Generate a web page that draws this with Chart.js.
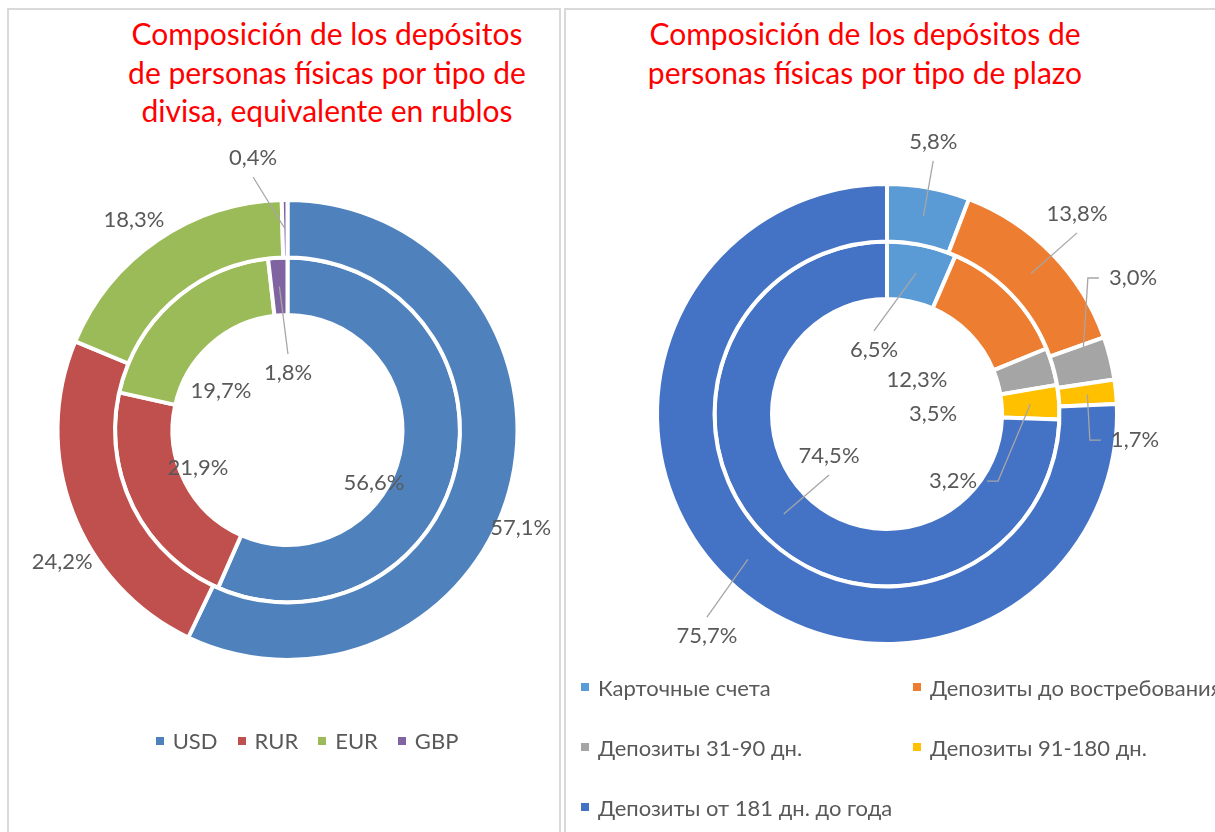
<!DOCTYPE html>
<html>
<head>
<meta charset="utf-8">
<script src="https://cdn.jsdelivr.net/npm/chart.js@4.4.0/dist/chart.umd.min.js"></script>
<style>
  body { margin: 0; width: 1215px; height: 832px; overflow: hidden; background: #fff; font-family: Lato, "Open Sans", sans-serif; }
  .panel { position: absolute; border: 2px solid #d9d9d9; box-sizing: border-box; }
  #panelLeft { left: 7px; top: 8px; width: 554px; height: 900px; }
  #panelRight { left: 564px; top: 8px; width: 700px; height: 900px; }
  .title { position: absolute; color: #ff0000; font-size: 30px; line-height: 38.5px; text-align: center; white-space: nowrap; }
  #titleLeft { left: 127px; width: 400px; top: 14px; }
  #titleRight { left: 565px; width: 600px; top: 14px; }
  canvas { position: absolute; }
  #currencyChart { left: 10px; top: 130px; }
  #termChart { left: 570px; top: 120px; }
  .legend { position: absolute; color: #595959; font-size: 22px; }
  .legend .item { display: flex; align-items: center; white-space: nowrap; }
  .legend .box { width: 8px; height: 8px; margin-right: 9px; }
  #legendLeft { left: 107px; width: 400px; top: 727px; display: flex; justify-content: center; gap: 20px; }
  #legendRight { left: 581px; top: 657px; display: grid; grid-template-columns: 332px 332px; grid-auto-rows: 60px; }
</style>
</head>
<body>
<div class="panel" id="panelLeft"></div>
<div class="panel" id="panelRight"></div>
<div class="title" id="titleLeft">Composición de los depósitos<br>de personas físicas por tipo de<br>divisa, equivalente en rublos</div>
<div class="title" id="titleRight">Composición de los depósitos de<br>personas físicas por tipo de plazo</div>
<canvas id="currencyChart" width="550" height="600"></canvas>
<canvas id="termChart" width="640" height="600"></canvas>
<div class="legend" id="legendLeft"></div>
<div class="legend" id="legendRight"></div>

<script>
/*-------- DATA ---------------- */
const currencies = ["USD", "RUR", "EUR", "GBP"];
const currencyOuter = [57.1, 24.2, 18.3, 0.4];
const currencyInner = [56.6, 21.9, 19.7, 1.8];
const currencyColors = ["#4f81bd", "#c0504d", "#9bbb59", "#8064a2"];

const terms = ["Карточные счета", "Депозиты до востребования", "Депозиты 31-90 дн.", "Депозиты 91-180 дн.", "Депозиты от 181 дн. до года"];
const termOuter = [5.8, 13.8, 3.0, 1.7, 75.7];
const termInner = [6.5, 12.3, 3.5, 3.2, 74.5];
const termColors = ["#5b9bd5", "#ed7d31", "#a5a5a5", "#ffc000", "#4472c4"];

/*-------- LABEL PLACEMENT (angle shift in deg, radius / outer radius, leader) ---- */
const currencyPlace = [
  [[10, 1.10, null], [-9.5, 1.136, null], [-1.8, 1.131, null], [-6.5, 1.192, "v"]],
  [[19.6, 0.441, null], [3.8, 0.423, null], [-17.7, 0.335, null], [3.7, 0.248, "v"]]
];
const termPlace = [
  [[-0.8, 1.2, "v"], [-2.2, 1.2, "v"], [-14.9, 1.222, "h"], [11.6, 1.084, "h"], [-4.7, 1.243, "v"]],
  [[-23.2, 0.284, "v"], [-4.1, 0.197, null], [16, 0.2, null], [49.4, 0.409, "h"], [8.2, 0.311, "v"]]
];

const fmt = (v) => v.toFixed(1).replace(".", ",") + "%";

/*-------- DATA LABELS WITH LEADER LINES ---------------- */
const ringLabels = {
  id: "ringLabels",
  afterDatasetsDraw(chart, args, opts) {
    const ctx = chart.ctx;
    const R = chart.getDatasetMeta(0).data[0].outerRadius;
    ctx.save();
    ctx.font = "22px Lato, 'Open Sans', sans-serif";
    ctx.fillStyle = "#595959";
    ctx.strokeStyle = "#a6a6a6";
    ctx.lineWidth = 1.3;
    ctx.textAlign = "center";
    ctx.textBaseline = "middle";
    chart.data.datasets.forEach((ds, di) => {
      const meta = chart.getDatasetMeta(di);
      meta.data.forEach((arc, i) => {
        const [shift, rf, lead] = opts.place[di][i];
        const mid = (arc.startAngle + arc.endAngle) / 2;
        const a = mid + shift * Math.PI / 180;
        const lx = arc.x + Math.cos(a) * rf * R;
        const ly = arc.y + Math.sin(a) * rf * R;
        const text = fmt(ds.data[i]);
        if (lead) {
          const rr = (arc.innerRadius + arc.outerRadius) / 2;
          const tx = arc.x + Math.cos(mid) * rr;
          const ty = arc.y + Math.sin(mid) * rr;
          ctx.beginPath();
          if (lead == "v") {
            ctx.moveTo(lx, ly + (ty > ly ? 19 : -19));
          } else {
            const dir = tx > lx ? 1 : -1;
            const sx = lx + dir * (ctx.measureText(text).width / 2 + 10);
            ctx.moveTo(sx, ly);
            ctx.lineTo(sx + dir * 11, ly);
          }
          ctx.lineTo(tx, ty);
          ctx.stroke();
        }
        ctx.fillText(text, lx, ly);
      });
    });
    ctx.restore();
  }
};

function makeRing(id, labels, outer, inner, colors, place, padding) {
  new Chart(document.getElementById(id).getContext("2d"), {
    type: "doughnut",
    data: {
      labels: labels,
      datasets: [
        { data: outer, backgroundColor: colors, borderColor: "#fff", borderWidth: 4 },
        { data: inner, backgroundColor: colors, borderColor: "#fff", borderWidth: 4 }
      ]
    },
    options: {
      responsive: false,
      animation: false,
      events: [],
      cutout: "50%",
      layout: { padding: padding },
      plugins: {
        legend: { display: false },
        tooltip: { enabled: false },
        ringLabels: { place: place }
      }
    },
    plugins: [ringLabels]
  });
}

makeRing("currencyChart", currencies, currencyOuter, currencyInner, currencyColors, currencyPlace,
  { left: 45.5, right: 40.5, top: 68, bottom: 68 });
makeRing("termChart", terms, termOuter, termInner, termColors, termPlace,
  { left: 85, right: 91, top: 62, bottom: 74 });

/*-------- LEGENDS ---------------- */
function buildLegend(id, labels, colors) {
  const box = document.getElementById(id);
  labels.forEach((name, i) => {
    const item = document.createElement("div");
    item.className = "item";
    item.innerHTML = `<span class="box" style="background:${colors[i]}"></span><span>${name}</span>`;
    box.appendChild(item);
  });
}
buildLegend("legendLeft", currencies, currencyColors);
buildLegend("legendRight", terms, termColors);
</script>
</body>
</html>
